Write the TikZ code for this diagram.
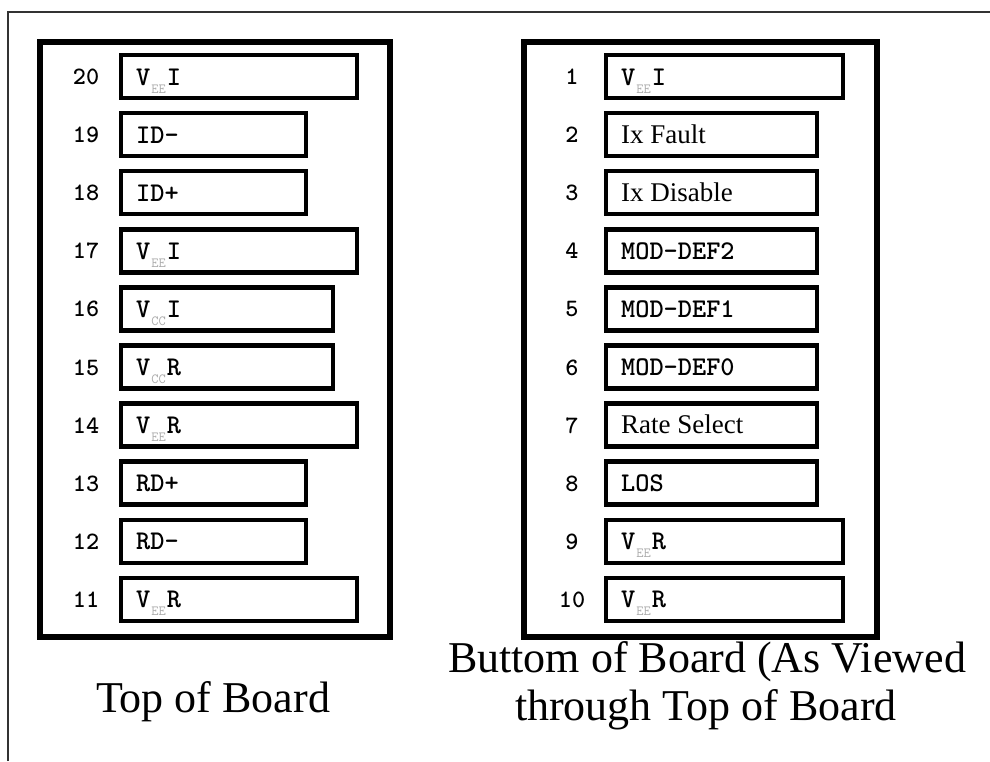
\documentclass[tikz,border=0pt]{standalone}
\usepackage{fontspec}
\setmainfont{Liberation Serif}
\definecolor{subgray}{RGB}{170,170,170}
\newcommand{\pinV}[2]{V\hspace{1pt}\raisebox{-8pt}{\fontsize{14}{14}\mdseries\selectfont\color{subgray}#1}\hspace{1pt}#2}
\newcommand{\serlab}[1]{{\rmfamily\mdseries\fontsize{27}{27}\selectfont #1}}
\begin{document}
\begin{tikzpicture}[x=1pt,y=-1pt,
  frameline/.style={line width=1.6pt, black!80},
  boardline/.style={line width=6pt, line join=miter},
  pinbox/.style={draw, line width=4.5pt, minimum height=43pt, inner sep=0pt, outer sep=0pt, anchor=west},
  pinnum/.style={font=\ttfamily\bfseries\fontsize{25}{25}\selectfont, anchor=base, inner sep=0pt},
  pinlab/.style={font=\ttfamily\bfseries\fontsize{27}{27}\selectfont, anchor=base west, inner sep=0pt},
  caption/.style={font=\fontsize{44}{44}\selectfont, anchor=base, inner sep=0pt}]
\useasboundingbox (0,0) rectangle (990,761);
\draw[frameline] (8,761) -- (8,12) -- (990,12);
% boards
\draw[boardline] (40,42) rectangle (390,637);
\draw[boardline] (524,42) rectangle (877,637);
% left board pins
\foreach \k/\num/\w/\lab in {
  0/20/236/{\pinV{EE}{I}},
  1/19/185/{ID-},
  2/18/185/{ID+},
  3/17/236/{\pinV{EE}{I}},
  4/16/212/{\pinV{CC}{I}},
  5/15/212/{\pinV{CC}{R}},
  6/14/236/{\pinV{EE}{R}},
  7/13/185/{RD+},
  8/12/185/{RD-},
  9/11/236/{\pinV{EE}{R}}}{
  \node[pinbox, minimum width=\w pt] (L\num) at (121,76.5+58.1*\k) {};
  \node[pinnum] (LN\num) at (86,84.5+58.1*\k) {\num};
  \node[pinlab] (LL\num) at (136,85+58.1*\k) {\lab};
}
% right board pins
\foreach \k/\num/\w/\lab in {
  0/1/237/{\pinV{EE}{I}},
  1/2/211/{\serlab{Ix Fault}},
  2/3/211/{\serlab{Ix Disable}},
  3/4/211/{MOD-DEF2},
  4/5/211/{MOD-DEF1},
  5/6/211/{MOD-DEF0},
  6/7/211/{\serlab{Rate Select}},
  7/8/211/{LOS},
  8/9/237/{\pinV{EE}{R}},
  9/10/237/{\pinV{EE}{R}}}{
  \node[pinbox, minimum width=\w pt] (R\num) at (606,76.5+58.1*\k) {};
  \node[pinnum] (RN\num) at (572,84.5+58.1*\k) {\num};
  \node[pinlab] (RL\num) at (621,85+58.1*\k) {\lab};
}
% captions
\node[caption] (capL) at (213,712) {Top of Board};
\node[caption] (capR1) at (707,672) {Buttom of Board (As Viewed};
\node[caption] (capR2) at (706,720) {through Top of Board};
\end{tikzpicture}
\end{document}
